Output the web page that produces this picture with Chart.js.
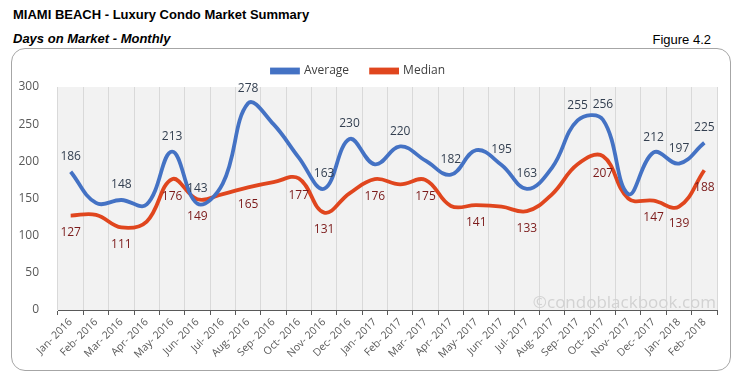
<!DOCTYPE html>
<html>
<head>
<meta charset="utf-8">
<script src="https://cdn.jsdelivr.net/npm/chart.js@4.4.1/dist/chart.umd.min.js"></script>
<style>
    body { margin: 0; background: #fff; }
    #wrap { position: relative; width: 736px; height: 380px; overflow: hidden; font-family: "Liberation Sans", Arial, sans-serif; color: #000; }
    .title { position: absolute; left: 13px; top: 8px; font-size: 13px; line-height: 13px; font-weight: bold; white-space: nowrap; }
    .subtitle { position: absolute; left: 13px; top: 32px; font-size: 13px; line-height: 13px; font-weight: bold; font-style: italic; white-space: nowrap; }
    .figure { position: absolute; right: 25px; top: 33px; font-size: 13px; line-height: 13px; white-space: nowrap; }
    .frame { position: absolute; left: 11px; top: 48px; width: 718px; height: 321px; border: 1px solid #a6a6a6; border-radius: 14px; }
    #chart { position: absolute; left: 0; top: 0; }
</style>
</head>
<body>
<div id="wrap">
    <div class="title">MIAMI BEACH - Luxury Condo Market Summary</div>
    <div class="subtitle">Days on Market - Monthly</div>
    <div class="figure">Figure 4.2</div>
    <div class="frame"></div>
    <canvas id="chart" width="736" height="380"></canvas>
</div>
<script>
const months = ['Jan- 2016', 'Feb- 2016', 'Mar- 2016', 'Apr- 2016', 'May- 2016', 'Jun- 2016',
    'Jul- 2016', 'Aug- 2016', 'Sep- 2016', 'Oct- 2016', 'Nov- 2016', 'Dec- 2016',
    'Jan- 2017', 'Feb- 2017', 'Mar- 2017', 'Apr- 2017', 'May- 2017', 'Jun- 2017',
    'Jul- 2017', 'Aug- 2017', 'Sep- 2017', 'Oct- 2017', 'Nov- 2017', 'Dec- 2017',
    'Jan- 2018', 'Feb- 2018'];
const averageDays = [186, 144, 148, 142, 213, 143, 170, 278, 250, 205, 163, 230, 196,
    220, 201, 182, 215, 195, 163, 192, 255, 256, 156, 212, 197, 225];
const medianDays = [127, 128, 111, 119, 176, 149, 156, 165, 172, 177, 131, 157, 176,
    169, 175, 140, 141, 139, 133, 156, 196, 207, 150, 147, 139, 188];
// which points carry a value label
const averageLabelled = [0, 2, 4, 5, 7, 10, 11, 13, 15, 17, 18, 20, 21, 23, 24, 25];
const medianLabelled = [0, 2, 4, 5, 7, 9, 10, 12, 14, 16, 18, 21, 23, 24, 25];
const yTicks = [0, 50, 100, 150, 200, 250, 300];

const BLUE = '#4472C4';
const RED = '#E0461E';

// grey plot background + watermark
const plotBackground = {
    id: 'plotBackground',
    beforeDraw(chart) {
        const { ctx, chartArea: a } = chart;
        ctx.save();
        ctx.fillStyle = '#F2F2F2';
        ctx.fillRect(a.left, a.top, a.right - a.left, a.bottom - a.top);
        ctx.restore();
    },
    beforeDatasetsDraw(chart) {
        const { ctx, chartArea: a } = chart;
        ctx.save();
        ctx.font = '17px "Open Sans"';
        ctx.fillStyle = '#d2d2d2';
        ctx.textAlign = 'right';
        ctx.textBaseline = 'alphabetic';
        ctx.fillText('\u00A9condoblackbook.com', a.right - 1, a.bottom - 2);
        ctx.restore();
    }
};

// point value labels, blue above and red below
const valueLabels = {
    id: 'valueLabels',
    afterDatasetsDraw(chart) {
        const { ctx } = chart;
        const specs = [
            { idx: averageLabelled, values: averageDays, color: '#333F50', above: true },
            { idx: medianLabelled, values: medianDays, color: '#7B1A1A', above: false }
        ];
        ctx.save();
        ctx.font = '12px "Open Sans"';
        ctx.textAlign = 'center';
        specs.forEach((s, di) => {
            const meta = chart.getDatasetMeta(di);
            ctx.fillStyle = s.color;
            ctx.textBaseline = s.above ? 'bottom' : 'top';
            s.idx.forEach(i => {
                const pt = meta.data[i];
                ctx.fillText(String(s.values[i]), pt.x, s.above ? pt.y - 9 : pt.y + 11);
            });
        });
        ctx.restore();
    }
};

new Chart(document.getElementById('chart'), {
    type: 'line',
    data: {
        labels: months,
        datasets: [
            {
                label: 'Average',
                data: averageDays,
                borderColor: BLUE,
                backgroundColor: BLUE,
                borderWidth: 3.8,
                pointRadius: 0,
                tension: 0.4
            },
            {
                label: 'Median',
                data: medianDays,
                borderColor: RED,
                backgroundColor: RED,
                borderWidth: 3.8,
                pointRadius: 0,
                tension: 0.4
            }
        ]
    },
    options: {
        responsive: false,
        animation: false,
        layout: { padding: { top: 43, right: 19, bottom: 0, left: 0 } },
        plugins: {
            legend: {
                position: 'top',
                labels: {
                    boxWidth: 26,
                    boxHeight: 3,
                    padding: 22,
                    color: '#404040',
                    font: { family: 'Open Sans', size: 12 }
                }
            },
            tooltip: { enabled: false }
        },
        scales: {
            x: {
                offset: true,
                grid: {
                    color: '#D9D9D9',
                    tickColor: '#595959',
                    tickLength: 5,
                    offset: true
                },
                border: { color: '#595959', width: 1 },
                ticks: {
                    color: '#595959',
                    font: { family: 'Open Sans', size: 10.5 },
                    minRotation: 45,
                    maxRotation: 45,
                    autoSkip: false,
                    padding: 1
                },
                afterFit(scale) { scale.height = 70; }
            },
            y: {
                min: 0,
                max: 300,
                grid: { display: false },
                border: { display: false },
                ticks: {
                    stepSize: 50,
                    color: '#595959',
                    font: { family: 'Open Sans', size: 12 },
                    padding: 11
                },
                afterBuildTicks(scale) { scale.ticks = yTicks.map(v => ({ value: v })); },
                afterFit(scale) { scale.width = 58; }
            }
        }
    },
    plugins: [plotBackground, valueLabels]
});
</script>
</body>
</html>
